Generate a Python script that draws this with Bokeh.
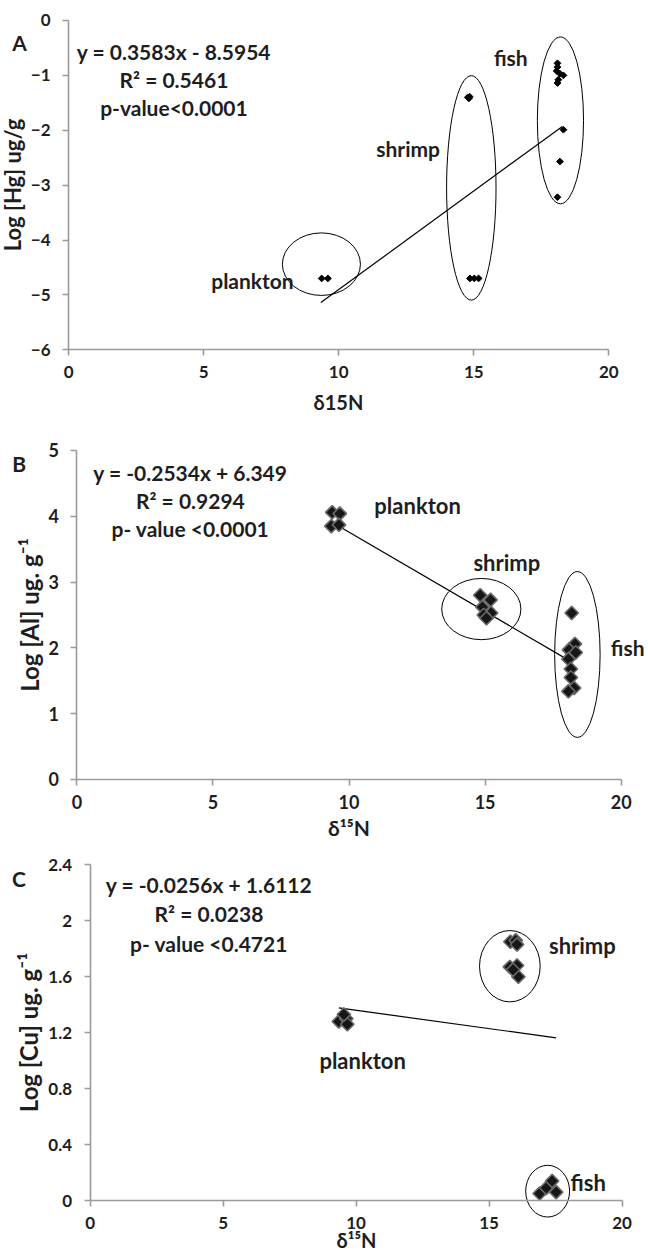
import math
from bokeh.plotting import figure
from bokeh.models import Label, FixedTicker, Range1d
from bokeh.layouts import column
from bokeh.embed import file_html
from bokeh.resources import INLINE

# ---------------- Panel A : Hg ----------------
a_plankton_x = [9.37, 9.60]
a_plankton_y = [-4.70, -4.70]
a_shrimp_x = [14.78, 14.82, 14.85, 14.86, 15.02, 15.18]
a_shrimp_y = [-1.40, -1.42, -1.39, -4.70, -4.70, -4.70]
a_fish_x = [18.10, 18.10, 18.07, 18.19, 18.32, 18.13, 18.10, 18.32, 18.19, 18.10]
a_fish_y = [-0.78, -0.85, -0.92, -0.97, -1.00, -1.08, -1.14, -1.99, -2.57, -3.22]
a_trend_x = [9.34, 18.28]
a_trend_y = [-5.14, -1.93]
a_ell_x = [9.36, 14.91, 18.21]
a_ell_y = [-4.44, -3.05, -1.82]
a_ell_w = [2.89, 1.83, 1.71]
a_ell_h = [1.14, 4.09, 3.04]
a_yticks = [-6, -5, -4, -3, -2, -1, 0]
a_eq = ["y = 0.3583x - 8.5954", "R\u00b2 = 0.5461", "p-value<0.0001"]

# ---------------- Panel B : Al ----------------
b_plankton_x = [9.38, 9.66, 9.35, 9.63]
b_plankton_y = [4.06, 4.04, 3.85, 3.87]
b_shrimp_x = [14.82, 15.20, 14.90, 15.22, 14.95, 15.05]
b_shrimp_y = [2.80, 2.73, 2.62, 2.53, 2.50, 2.45]
b_fish_x = [18.18, 18.30, 18.08, 18.33, 18.06, 18.15, 18.15, 18.27, 18.06]
b_fish_y = [2.53, 2.06, 1.97, 1.93, 1.83, 1.68, 1.55, 1.39, 1.34]
b_trend_x = [9.50, 18.08]
b_trend_y = [3.88, 1.81]
b_ell_x = [14.86, 18.39]
b_ell_y = [2.59, 1.90]
b_ell_w = [2.91, 1.67]
b_ell_h = [0.93, 2.52]
b_yticks = [0, 1, 2, 3, 4, 5]
b_eq = ["y = -0.2534x + 6.349", "R\u00b2 = 0.9294", "p- value <0.0001"]

# ---------------- Panel C : Cu ----------------
c_plankton_x = [9.35, 9.63, 9.67, 9.54]
c_plankton_y = [1.28, 1.30, 1.26, 1.33]
c_shrimp_x = [15.80, 16.00, 16.05, 15.78, 16.05, 16.10, 15.90]
c_shrimp_y = [1.85, 1.86, 1.83, 1.67, 1.68, 1.60, 1.65]
c_fish_x = [16.90, 17.15, 17.37, 17.52]
c_fish_y = [0.05, 0.09, 0.14, 0.06]
c_trend_x = [9.35, 17.52]
c_trend_y = [1.377, 1.163]
c_ell_x = [15.78, 17.20]
c_ell_y = [1.675, 0.067]
c_ell_w = [2.28, 1.65]
c_ell_h = [0.51, 0.37]
c_yticks = [0, 0.4, 0.8, 1.2, 1.6, 2.0, 2.4]
c_ytick_labels = ["0", "0.4", "0.8", "1.2", "1.6", "2", "2.4"]
c_eq = ["y = -0.0256x + 1.6112", "R\u00b2 = 0.0238", "p- value <0.4721"]

x_ticks = [0, 5, 10, 15, 20]

FONT = "Lato"
AX = "#9a9a9a"
TXT = "#1e1e1e"


def base(height, xr, yr, ybounds, yticks, ylabel, xlabel,
         tick_size, ylab_size, xlab_size, ylab_standoff, xlab_standoff):
    p = figure(width=648, height=height, output_backend="svg", toolbar_location=None,
               x_range=Range1d(*xr), y_range=Range1d(*yr), min_border=0)
    p.outline_line_color = None
    p.grid.visible = False
    p.background_fill_color = "white"
    p.border_fill_color = "white"
    p.xaxis.ticker = FixedTicker(ticks=x_ticks)
    p.yaxis.ticker = FixedTicker(ticks=yticks)
    p.xaxis.fixed_location = ybounds[0]
    p.yaxis.fixed_location = 0
    p.xaxis.bounds = (0, 20)
    p.yaxis.bounds = ybounds
    for ax in (p.xaxis[0], p.yaxis[0]):
        ax.axis_line_color = AX
        ax.axis_line_width = 1.6
        ax.major_tick_line_color = AX
        ax.major_tick_line_width = 1.6
        ax.major_tick_out = 6
        ax.major_tick_in = 0
        ax.minor_tick_line_color = None
        ax.major_label_text_font = FONT
        ax.major_label_text_font_style = "bold"
        ax.major_label_text_font_size = tick_size
        ax.major_label_text_color = TXT
        ax.axis_label_text_font = FONT
        ax.axis_label_text_font_style = "bold"
        ax.axis_label_text_color = TXT
    p.yaxis.major_label_standoff = 12
    p.xaxis.major_label_standoff = 10
    p.xaxis.axis_label = xlabel
    p.yaxis.axis_label = ylabel
    p.yaxis.axis_label_text_font_size = ylab_size
    p.xaxis.axis_label_text_font_size = xlab_size
    p.xaxis.axis_label_standoff = xlab_standoff
    p.yaxis.axis_label_standoff = ylab_standoff
    return p


def add_text(p, x, y, text, size, align="left"):
    p.add_layout(Label(x=x, y=y, text=text, text_font=FONT, text_font_style="bold",
                       text_font_size=size, text_color=TXT,
                       text_align=align, text_baseline="middle"))


def big_markers(p, xs, ys):
    p.scatter(xs, ys, marker="square", angle=math.pi / 4, size=9.5,
              fill_color="#161616", line_color="#6a6a6a", line_width=1.6)


# ---- A ----
pa = base(418, (-2.521, 21.470), (-7.252, 0.364), (-6, 0), a_yticks,
          "Log [Hg] ug/g", "\u03b415N", "17px", "22px", "20px", 2, 9)
pa.ellipse(a_ell_x, a_ell_y, width=a_ell_w, height=a_ell_h, fill_alpha=0,
           line_color="black", line_width=1)
pa.line(a_trend_x, a_trend_y, line_color="black", line_width=1.2)
for xs, ys in ((a_plankton_x, a_plankton_y), (a_shrimp_x, a_shrimp_y), (a_fish_x, a_fish_y)):
    pa.scatter(xs, ys, marker="square", angle=math.pi / 4, size=4.8,
               fill_color="black", line_color="black")
add_text(pa, -1.82, -0.40, "A", "21px", "center")
for t, yy in zip(a_eq, [-0.56, -1.08, -1.59]):
    add_text(pa, 3.9, yy, t, "21px", "center")
add_text(pa, 5.28, -4.74, "plankton", "21px")
add_text(pa, 11.39, -2.34, "shrimp", "21px")
add_text(pa, 15.75, -0.68, "fish", "21px")

# ---- B ----
pb = base(426, (-2.807, 21.003), (-0.988, 5.486), (0, 5), b_yticks,
          "Log [Al] ug. g\u207b\u00b9", "\u03b4\u00b9\u2075N", "18px", "24px", "21px", 1, 2)
pb.ellipse(b_ell_x, b_ell_y, width=b_ell_w, height=b_ell_h, fill_alpha=0,
           line_color="black", line_width=1)
pb.line(b_trend_x, b_trend_y, line_color="black", line_width=1.2)
for xs, ys in ((b_plankton_x, b_plankton_y), (b_shrimp_x, b_shrimp_y), (b_fish_x, b_fish_y)):
    big_markers(pb, xs, ys)
add_text(pb, -2.12, 4.80, "B", "21px", "center")
for t, yy in zip(b_eq, [4.67, 4.24, 3.82]):
    add_text(pb, 4.17, yy, t, "21px", "center")
add_text(pb, 10.93, 4.16, "plankton", "22px")
add_text(pb, 14.57, 3.30, "shrimp", "22px")
add_text(pb, 19.62, 2.01, "fish", "21px")

# ---- C ----
pc = base(412, (-3.368, 20.992), (-0.400, 2.545), (0, 2.4), c_yticks,
          "Log [Cu] ug. g\u207b\u00b9", "\u03b4\u00b9\u2075N", "17px", "24px", "20px", 3, -4)
pc.yaxis.major_label_overrides = {v: s for v, s in zip(c_yticks, c_ytick_labels)}
pc.ellipse(c_ell_x, c_ell_y, width=c_ell_w, height=c_ell_h, fill_alpha=0,
           line_color="black", line_width=1)
pc.line(c_trend_x, c_trend_y, line_color="black", line_width=1.2)
for xs, ys in ((c_plankton_x, c_plankton_y), (c_shrimp_x, c_shrimp_y), (c_fish_x, c_fish_y)):
    big_markers(pc, xs, ys)
add_text(pc, -2.67, 2.30, "C", "21px", "center")
for t, yy in zip(c_eq, [2.26, 2.05, 1.84]):
    add_text(pc, 4.47, yy, t, "21px", "center")
add_text(pc, 17.25, 1.82, "shrimp", "22px")
add_text(pc, 8.62, 1.00, "plankton", "22px")
add_text(pc, 18.06, 0.13, "fish", "22px")

layout = column(pa, pb, pc)
open("out.html", "w").write(file_html(layout, INLINE))
